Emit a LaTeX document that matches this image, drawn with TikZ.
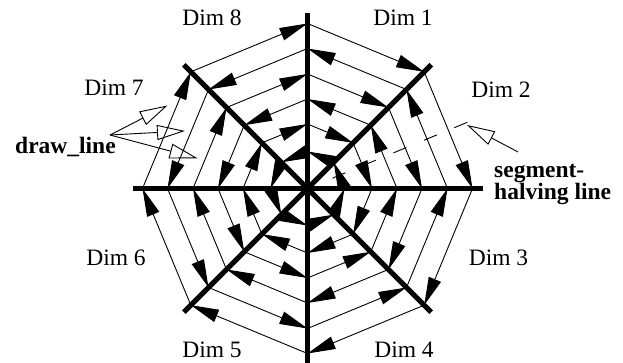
\documentclass[tikz,border=0pt]{standalone}
\usepackage{fontspec}
\setmainfont{Liberation Serif}
\usetikzlibrary{arrows.meta}
\begin{document}
\begin{tikzpicture}[x=1pt,y=1pt,
  axisline/.style={line width=5pt},
  chord/.style={line width=0.9pt,-{Triangle[length=28pt,width=13pt]}},
  halving/.style={line width=0.9pt,dash pattern=on 14pt off 19pt},
  callout/.style={line width=0.9pt,-{Triangle[open,length=28pt,width=15pt]}},
  dimlabel/.style={anchor=base,inner sep=0pt,font=\fontsize{23.5}{28}\selectfont},
  boldlabel/.style={anchor=base west,inner sep=0pt,font=\fontsize{23.5}{20.5}\selectfont\bfseries}]
\useasboundingbox (0,0) rectangle (623,363);
\begin{scope}[shift={(307.5,174.5)}]
  \coordinate (c) at (0,0);
  \foreach \i in {0,...,7} {\coordinate (a\i) at (\i*45:175);}
  \foreach \r [count=\k] in {165,140,114.5,89.5,64.5,37} {
    \foreach \i in {0,...,7} {\coordinate (p\k-\i) at (\i*45:\r);}
  }
  \coordinate (h0) at (22.5:27);
  \coordinate (h1) at (22.5:173);
\end{scope}
% chords
\foreach \k in {1,...,6} {
  \foreach \i in {0,...,7} {
    \pgfmathtruncatemacro{\j}{mod(\i+1,8)}
    \ifodd\k
      \draw[chord] (p\k-\j) -- (p\k-\i);
    \else
      \draw[chord] (p\k-\i) -- (p\k-\j);
    \fi
  }
}
% axes
\foreach \i in {0,...,7} {\draw[axisline] (c) -- (a\i);}
% segment-halving line
\draw[halving] (h0) -- (h1);
% labels
\node[dimlabel] (d8) at (212,337) {Dim 8};
\node[dimlabel] (d1) at (403,337) {Dim 1};
\node[dimlabel] (d2) at (501,265) {Dim 2};
\node[dimlabel] (d7) at (114,267) {Dim 7};
\node[dimlabel] (d6) at (116,97) {Dim 6};
\node[dimlabel] (d3) at (498.5,97) {Dim 3};
\node[dimlabel] (d5) at (212,5.5) {Dim 5};
\node[dimlabel] (d4) at (404,5.5) {Dim 4};
\node[boldlabel] (dl) at (15,209) {draw\_line};
\node[boldlabel,anchor=north west,align=left] (sh) at (494,199) {segment-\\halving line};
% callouts
\coordinate (dls) at (110,228);
\coordinate (t1) at (167.5,257.5);
\coordinate (t2) at (185,232);
\coordinate (t3) at (197.5,204.7);
\draw[callout] (dls) -- (t1);
\draw[callout] (dls) -- (t2);
\draw[callout] (dls) -- (t3);
\coordinate (shs) at (518,211);
\coordinate (sht) at (467,238);
\draw[callout] (shs) -- (sht);
\end{tikzpicture}
\end{document}
